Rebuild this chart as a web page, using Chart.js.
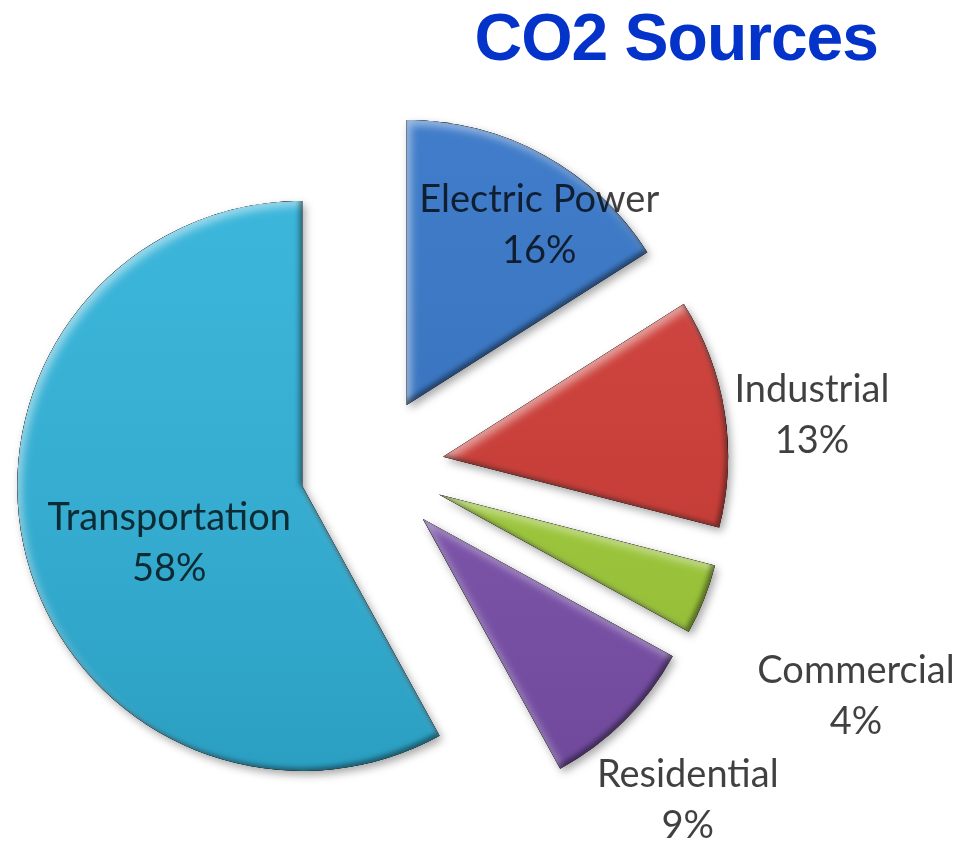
<!DOCTYPE html>
<html>
<head>
<meta charset="utf-8">
<title>CO2 Sources</title>
<script src="https://cdn.jsdelivr.net/npm/chart.js@4.4.1/dist/chart.umd.min.js"></script>
<style>
  html, body { margin: 0; padding: 0; background: #fff; overflow: hidden; }
  #wrap { position: relative; width: 979px; height: 842px; }
  #heading {
    position: absolute; top: 4px; right: 101px; margin: 0;
    font: bold 66px "Liberation Sans", Arial, sans-serif;
    letter-spacing: -1px; line-height: 66px; color: #0433c9; white-space: nowrap;
  }
</style>
</head>
<body>
<div id="wrap">
  <canvas id="co2Pie"></canvas>
  <h1 id="heading">CO2 Sources</h1>
</div>
<script>
  // share of CO2 emissions by source, clockwise from 12 o'clock
  const sources = ['Electric Power', 'Industrial', 'Commercial', 'Residential', 'Transportation'];
  const shares = [16, 13, 4, 9, 58];
  const sliceColors = ['#3474c6', '#cf3a34', '#9fcc37', '#7a4fab', '#2fb1d8'];

  // where each label sits: fraction across the slice angle, and fraction of the radius
  const labelAngleAt = [0.63, 0.55, 0.785, 0.55, 0.46];
  const labelRadiusAt = [0.786, 1.303, 1.624, 1.353, 0.506];

  function innerShade(ctx, x, y, r, a0, a1, color, ox, oy, blur) {
    // fill everything outside the wedge; only its shadow lands inside the clip
    ctx.save();
    ctx.beginPath();
    ctx.rect(x - r - 80, y - r - 80, 2 * r + 160, 2 * r + 160);
    ctx.moveTo(x, y);
    ctx.arc(x, y, r, a0, a1);
    ctx.closePath();
    ctx.shadowColor = color;
    ctx.shadowBlur = blur;
    ctx.shadowOffsetX = ox;
    ctx.shadowOffsetY = oy;
    ctx.fillStyle = '#000';
    ctx.fill('evenodd');
    ctx.restore();
  }

  const explodedPie = {
    id: 'explodedPie',
    beforeDatasetDraw(chart, args, opts) {
      const ctx = chart.ctx;
      args.meta.data.forEach((arc) => {
        const { x, y, startAngle, endAngle, outerRadius } =
          arc.getProps(['x', 'y', 'startAngle', 'endAngle', 'outerRadius'], true);
        const mid = (startAngle + endAngle) / 2;
        const dx = Math.cos(mid) * opts.distance;
        const dy = Math.sin(mid) * opts.distance;

        // slice body with a soft drop shadow
        ctx.save();
        ctx.translate(dx, dy);
        ctx.shadowColor = 'rgba(0,0,0,0.35)';
        ctx.shadowBlur = 9;
        ctx.shadowOffsetX = 3;
        ctx.shadowOffsetY = 4;
        arc.draw(ctx);
        ctx.restore();

        // sheen and bevelled edges, clipped to the slice
        ctx.save();
        ctx.translate(dx, dy);
        ctx.beginPath();
        ctx.moveTo(x, y);
        ctx.arc(x, y, outerRadius, startAngle, endAngle);
        ctx.closePath();
        ctx.clip();
        const sheen = ctx.createLinearGradient(0, y - outerRadius, 0, y + outerRadius);
        sheen.addColorStop(0, 'rgba(255,255,255,0.06)');
        sheen.addColorStop(1, 'rgba(0,0,0,0.10)');
        ctx.fillStyle = sheen;
        ctx.fillRect(x - outerRadius, y - outerRadius, outerRadius * 2, outerRadius * 2);
        innerShade(ctx, x, y, outerRadius, startAngle, endAngle, 'rgba(255,255,255,0.5)', 4, 5, 9);
        innerShade(ctx, x, y, outerRadius, startAngle, endAngle, 'rgba(0,0,0,0.45)', -3, -3, 5);
        ctx.restore();
      });
      return false;
    },
    afterDatasetsDraw(chart, args, opts) {
      const ctx = chart.ctx;
      const meta = chart.getDatasetMeta(0);
      const values = chart.data.datasets[0].data;
      ctx.save();
      ctx.font = opts.font;
      ctx.fillStyle = opts.color;
      ctx.textAlign = 'center';
      ctx.textBaseline = 'alphabetic';
      meta.data.forEach((arc, i) => {
        const { x, y, startAngle, endAngle, outerRadius } =
          arc.getProps(['x', 'y', 'startAngle', 'endAngle', 'outerRadius'], true);
        const mid = (startAngle + endAngle) / 2;
        const cx = x + Math.cos(mid) * opts.distance;
        const cy = y + Math.sin(mid) * opts.distance;
        const a = startAngle + opts.angleAt[i] * (endAngle - startAngle);
        const rr = opts.radiusAt[i] * outerRadius;
        const lx = cx + Math.cos(a) * rr;
        const ly = cy + Math.sin(a) * rr;
        ctx.fillText(chart.data.labels[i], lx, ly - 12);
        ctx.fillText(values[i] + '%', lx, ly + 39);
      });
      ctx.restore();
    }
  };

  new Chart(document.getElementById('co2Pie'), {
    type: 'pie',
    data: {
      labels: sources,
      datasets: [{
        data: shares,
        backgroundColor: sliceColors,
        borderWidth: 0
      }]
    },
    options: {
      responsive: true,
      maintainAspectRatio: false,
      animation: false,
      events: [],
      radius: 285,
      layout: { padding: { left: 0, right: 235, top: 94, bottom: 0 } },
      plugins: {
        legend: { display: false },
        title: { display: false },
        tooltip: { enabled: false },
        explodedPie: {
          distance: 72,
          font: '38px Lato, "Open Sans", sans-serif',
          color: 'rgba(0,0,0,0.75)',
          angleAt: labelAngleAt,
          radiusAt: labelRadiusAt
        }
      }
    },
    plugins: [explodedPie]
  });
</script>
</body>
</html>
